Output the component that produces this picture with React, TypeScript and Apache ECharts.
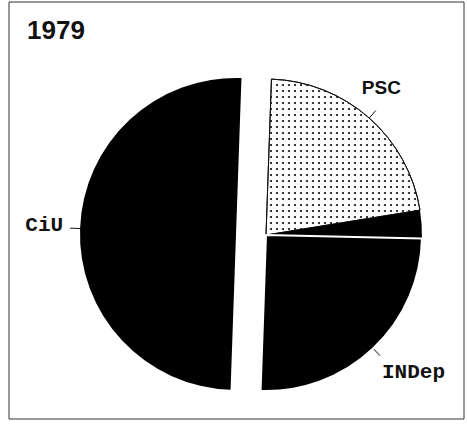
import React, { useEffect, useRef } from 'react';
import * as echarts from 'echarts';

const TITLE = '1979';
const categories = ['PSC', 'Altres', 'INDep', 'CiU'];
const values = [21.9, 2.9, 25.2, 50.0];
const showLabel = [true, false, true, true];
const exploded = [false, false, false, true];

export default function App() {
  const ref = useRef<HTMLDivElement>(null);
  useEffect(() => {
    if (!ref.current) return;
    const chart = echarts.init(ref.current, null, { renderer: 'svg' });
    const labelStyles: any[] = [
      { fontFamily: 'Liberation Sans', fontSize: 19, fontWeight: 'bold', distanceToLabelLine: -14, formatter: '{b}\n', lineHeight: 46 },
      { show: false },
      { fontFamily: 'Liberation Mono', fontSize: 21, fontWeight: 'bold', distanceToLabelLine: 2, formatter: '\n{b}', lineHeight: 34 },
      { fontFamily: 'Liberation Mono', fontSize: 21, fontWeight: 'bold', distanceToLabelLine: 7, formatter: '{b}\n', lineHeight: 6 },
    ];
    const itemStyles: any[] = [
      {
        color: '#fff',
        borderColor: '#111',
        borderWidth: 1,
        decal: { symbol: 'circle', symbolSize: 1, dashArrayX: [1.8, 3.2], dashArrayY: [1.8, 3.2], color: '#111' },
      },
      { color: '#000', borderWidth: 0 },
      { color: '#000', borderColor: '#fff', borderWidth: 2 },
      { color: '#000', borderWidth: 0 },
    ];
    const data = categories.map((name, i) => ({
      name,
      value: values[i],
      selected: exploded[i],
      itemStyle: itemStyles[i],
      label: { show: showLabel[i], ...labelStyles[i] },
      labelLine: { show: showLabel[i] },
    }));
    chart.setOption({
      animation: false,
      backgroundColor: '#fff',
      title: {
        text: TITLE,
        left: 27,
        top: 17,
        padding: 0,
        textStyle: { fontFamily: 'Liberation Sans', fontSize: 26, fontWeight: 'bold', color: '#111' },
      },
      graphic: [
        {
          type: 'rect',
          shape: { x: 9, y: 2, width: 455, height: 417 },
          style: { fill: 'none', stroke: '#333', lineWidth: 1 },
          silent: true,
        },
      ],
      series: [
        {
          type: 'pie',
          center: [266, 235],
          radius: 156,
          startAngle: 88,
          clockwise: true,
          selectedMode: 'single',
          selectedOffset: 30,
          avoidLabelOverlap: false,
          label: { position: 'outside', color: '#111' },
          labelLine: { length: 10, length2: 0, lineStyle: { color: '#111', width: 1 } },
          emphasis: { disabled: true },
          select: { itemStyle: {} },
          data,
        },
      ],
    });
    return () => chart.dispose();
  }, []);
  return <div ref={ref} style={{ position: 'fixed', left: 0, top: 0, width: 467, height: 424 }} />;
}
